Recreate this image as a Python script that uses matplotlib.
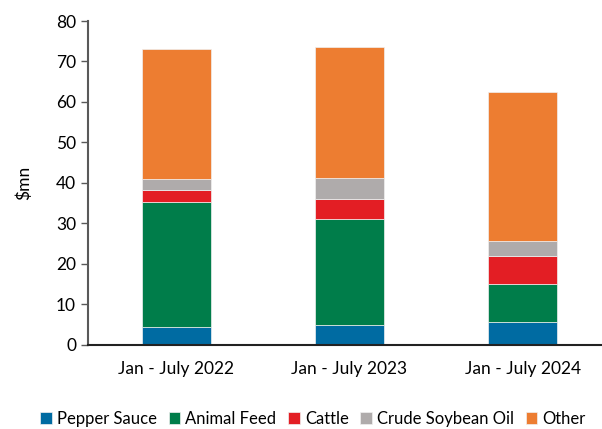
import matplotlib
matplotlib.use("Agg")
import matplotlib.pyplot as plt
import numpy as np

categories = ["Jan - July 2022", "Jan - July 2023", "Jan - July 2024"]
pepper_sauce = [4.4, 4.8, 5.5]
animal_feed = [30.9, 26.2, 9.4]
cattle = [3.0, 4.9, 6.9]
crude_soybean_oil = [2.7, 5.3, 3.9]
other = [32.2, 32.4, 36.8]

series = [
    ("Pepper Sauce", pepper_sauce, "#006BA2"),
    ("Animal Feed", animal_feed, "#007D4A"),
    ("Cattle", cattle, "#E31E24"),
    ("Crude Soybean Oil", crude_soybean_oil, "#AFABAB"),
    ("Other", other, "#ED7D31"),
]

plt.rcParams['font.family'] = ['Lato', 'DejaVu Sans']

fig = plt.figure(figsize=(6.02, 4.29), dpi=100)
ax = fig.add_axes([0.146, 0.1965, 0.852, 0.7545])

x = np.arange(len(categories))
bottom = np.zeros(len(categories))
for name, vals, color in series:
    ax.bar(x, vals, width=0.4, bottom=bottom, color=color, label=name,
           edgecolor="#f0f0f0", linewidth=0.5)
    bottom += np.array(vals)

ax.set_xlim(-0.51, 2.45)
ax.set_ylim(0, 80)
ax.set_yticks(range(0, 81, 10))
ax.set_xticks(x)
ax.set_xticklabels(categories, fontsize=12.5)
ax.tick_params(axis='y', labelsize=12.5, direction='out', length=5, color='#595959', width=1)
ax.tick_params(axis='x', length=0, pad=12)
for s in ['top', 'right']:
    ax.spines[s].set_visible(False)
ax.spines['left'].set_color('#595959')
ax.spines['left'].set_linewidth(1.5)
ax.spines['bottom'].set_color('#222222')
ax.spines['bottom'].set_linewidth(1.5)
ax.set_ylabel("$mn", fontsize=12.5, labelpad=17)

leg = fig.legend(loc='lower center', bbox_to_anchor=(0.52, -0.03), ncol=5, frameon=False,
                 fontsize=12, handlelength=0.7, handleheight=0.7, handletextpad=0.3,
                 columnspacing=0.7)

fig.savefig("out.png", dpi=100)
